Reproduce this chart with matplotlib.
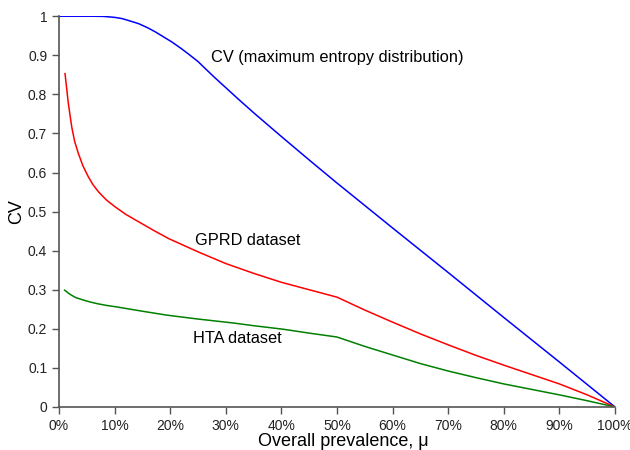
import matplotlib
matplotlib.use("Agg")
from matplotlib import pyplot as plt

plt.rcParams['font.family'] = ['Liberation Sans', 'DejaVu Sans']

# CV of the maximum entropy distribution
max_ent_x = [0, 6, 8, 10, 11.3, 12.5, 14.3, 16, 17.3, 18.8, 20.3, 22, 23.3, 25, 26.3,
             28, 30, 32, 35, 40, 45, 50, 60, 70, 80, 90, 100]
max_ent_cv = [1.0, 1.0, 0.9995, 0.997, 0.994, 0.989, 0.981, 0.97, 0.96, 0.947, 0.934,
              0.917, 0.903, 0.884, 0.866, 0.843, 0.817, 0.791, 0.753, 0.692, 0.632,
              0.573, 0.458, 0.344, 0.229, 0.115, 0.0]

# GPRD dataset
gprd_x = [1.08, 1.67, 2.28, 2.8, 3.47, 4.3, 5.27, 6.1, 7.07, 8.5, 10.1, 12, 14.3, 17,
          19.7, 25, 30, 35, 40, 45, 50, 55, 60, 65, 70, 75, 80, 85, 90, 95, 100]
gprd_cv = [0.853, 0.777, 0.717, 0.68, 0.649, 0.617, 0.589, 0.569, 0.551, 0.53, 0.512,
           0.493, 0.474, 0.452, 0.431, 0.397, 0.367, 0.342, 0.319, 0.3, 0.281, 0.248,
           0.217, 0.187, 0.159, 0.132, 0.107, 0.083, 0.059, 0.031, 0.0]

# HTA dataset
hta_x = [1, 2, 3, 4.3, 5.5, 7, 8.5, 10.4, 15, 19.4, 25, 31.3, 35, 40.3, 45, 50,
         55, 60, 65, 70, 75, 80, 85, 90, 95, 100]
hta_cv = [0.299, 0.288, 0.28, 0.274, 0.269, 0.264, 0.26, 0.256, 0.245, 0.235, 0.225,
          0.215, 0.208, 0.199, 0.189, 0.179, 0.155, 0.133, 0.111, 0.092, 0.075,
          0.059, 0.045, 0.031, 0.016, 0.0]

x_ticks = list(range(0, 101, 10))
x_tick_labels = [str(t) + "%" for t in x_ticks]
y_ticks = [i / 10 for i in range(11)]
y_tick_labels = ["0", "0.1", "0.2", "0.3", "0.4", "0.5", "0.6", "0.7", "0.8", "0.9", "1"]

fig = plt.figure(figsize=(6.3, 4.5), dpi=100)
ax = fig.add_axes([0.0937, 0.0956, 0.8825, 0.8684])

ax.plot(max_ent_x, max_ent_cv, color="#0000ff", lw=1.1)
ax.plot(gprd_x, gprd_cv, color="#ff0000", lw=1.1)
ax.plot(hta_x, hta_cv, color="#008000", lw=1.1)

ax.text(50, 0.895, "CV (maximum entropy distribution)", ha="center", va="center", fontsize=11.8)
ax.text(34, 0.425, "GPRD dataset", ha="center", va="center", fontsize=11.8)
ax.text(32, 0.176, "HTA dataset", ha="center", va="center", fontsize=11.8)

ax.set_xlim(0, 100)
ax.set_ylim(0, 1)
ax.set_xticks(x_ticks)
ax.set_xticklabels(x_tick_labels)
ax.set_yticks(y_ticks)
ax.set_yticklabels(y_tick_labels)
ax.tick_params(labelsize=10, length=5, width=1, color="#555555", labelcolor="#222222")

for side in ["top", "right"]:
    ax.spines[side].set_visible(False)
for side in ["left", "bottom"]:
    ax.spines[side].set_color("#555555")
    ax.spines[side].set_linewidth(1.2)

ax.set_xlabel("Overall prevalence, μ", fontsize=13, labelpad=0)
ax.xaxis.label.set_x(0.511)
ax.set_ylabel("CV", fontsize=13, labelpad=2)

plt.savefig("out.png", dpi=100)
